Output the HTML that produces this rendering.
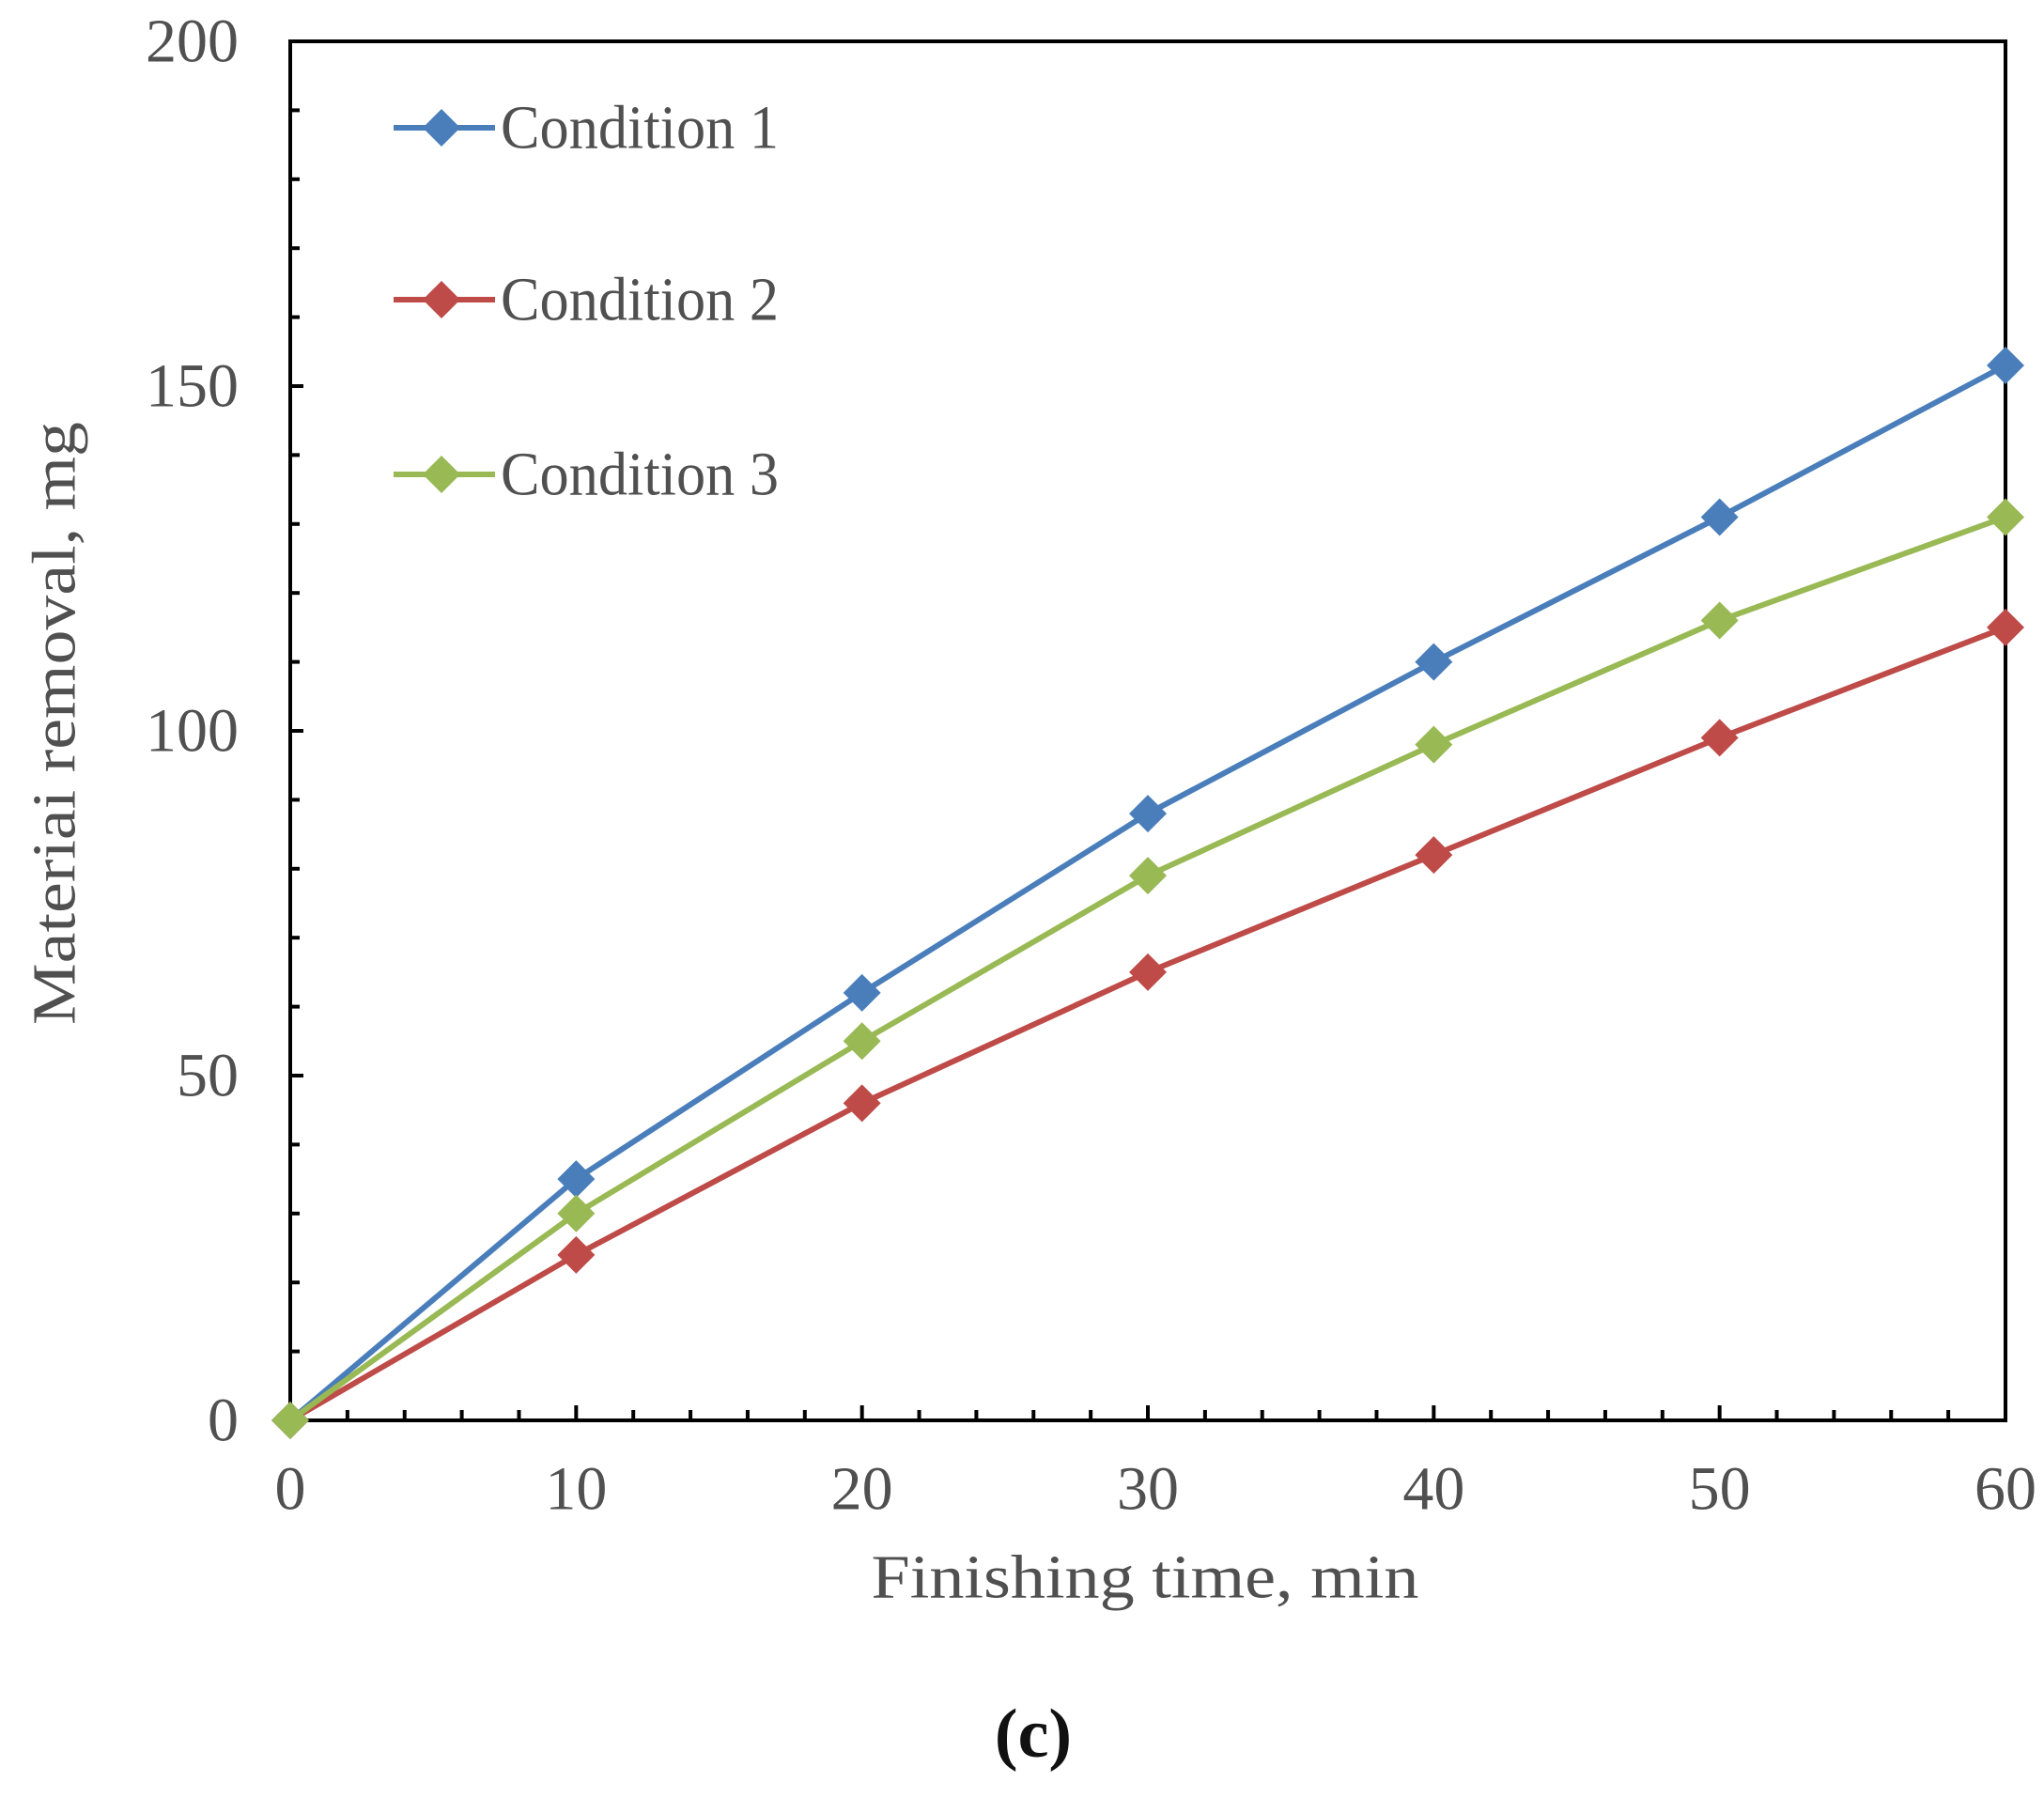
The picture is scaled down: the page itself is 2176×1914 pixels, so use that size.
<!DOCTYPE html>
<html><head><meta charset="utf-8"><style>
html,body{margin:0;padding:0;background:#fff;}
svg{display:block;}
text{font-family:"Liberation Serif",serif;fill:#505050;}
</style></head><body>
<svg id="chart" width="2176" height="1914" viewBox="0 0 2176 1914">
<g id="axes"></g>
<g id="series"></g>
<g id="legend"></g>
<text x="58" y="770" font-size="66" text-anchor="middle" dominant-baseline="central" transform="rotate(-90 58 770)" textLength="642" lengthAdjust="spacingAndGlyphs">Materiai removal, mg</text>
<text x="1219" y="1679" font-size="66" text-anchor="middle" dominant-baseline="central" textLength="583" lengthAdjust="spacingAndGlyphs">Finishing  time, min</text>
<text x="1100" y="1846" font-size="74" font-weight="bold" text-anchor="middle" dominant-baseline="central" style="fill:#111">(c)</text>
</svg>
<script>
const xCategories = [0, 10, 20, 30, 40, 50, 60];
const condition1 = [0, 35, 62, 88, 110, 131, 153];
const condition2 = [0, 24, 46, 65, 82, 99, 115];
const condition3 = [0, 30, 55, 79, 98, 116, 131];
const seriesNames = ["Condition 1", "Condition 2", "Condition 3"];
const yTickLabels = [0, 50, 100, 150, 200];
const xTickLabels = [0, 10, 20, 30, 40, 50, 60];

const NS = "http://www.w3.org/2000/svg";
const L = 309, R = 2135, T = 44, B = 1512;
const xMin = 0, xMax = 60, yMin = 0, yMax = 200;
function xs(v){ return L + (v - xMin) / (xMax - xMin) * (R - L); }
function ys(v){ return B - (v - yMin) / (yMax - yMin) * (B - T); }
function mk(tag, attrs, parent){
  const e = document.createElementNS(NS, tag);
  for (const k in attrs) e.setAttribute(k, attrs[k]);
  parent.appendChild(e);
  return e;
}
const axes = document.getElementById('axes');
const frame = mk('rect', {x:L, y:T, width:R-L, height:B-T, fill:'none', stroke:'#000', 'stroke-width':4}, axes);


for (let v = 0; v <= 200; v += 10) {
  const major = v % 50 === 0;
  const t = mk('line', {x1:L, x2:L + (major ? 14 : 10), y1:ys(v), y2:ys(v), stroke:'#000', 'stroke-width':4}, axes);
  
  
}
for (let v = 0; v <= 60; v += 2) {
  const major = v % 10 === 0;
  const t = mk('line', {x1:xs(v), x2:xs(v), y1:B, y2:B - (major ? 16 : 11), stroke:'#000', 'stroke-width':4}, axes);
  
  
}
yTickLabels.forEach(v => {
  const t = mk('text', {x:254, y:ys(v), 'font-size':66, 'text-anchor':'end', 'dominant-baseline':'central'}, axes);
  t.textContent = v;
  
  
});
xTickLabels.forEach(v => {
  const t = mk('text', {x:xs(v), y:1585, 'font-size':66, 'text-anchor':'middle', 'dominant-baseline':'central'}, axes);
  t.textContent = v;
  
  
});
const colors = ['#4a7ebb', '#be4b48', '#98b954'];
const allSeries = [condition1, condition2, condition3];
const sg = document.getElementById('series');
function diamond(cx, cy, r, color, parent){
  return mk('polygon', {points:`${cx},${cy-r} ${cx+r},${cy} ${cx},${cy+r} ${cx-r},${cy}`, fill:color}, parent);
}
allSeries.forEach((data, i) => {
  const g = mk('g', {}, sg);
  
  
  const pts = data.map((v, j) => xs(xCategories[j]) + ',' + ys(v)).join(' ');
  const pl = mk('polyline', {points:pts, fill:'none', stroke:colors[i], 'stroke-width':6, 'stroke-linejoin':'round'}, g);
  
  
  data.forEach((v, j) => {
    const d = diamond(xs(xCategories[j]), ys(v), 20, colors[i], g);
    
    
  });
});
const lg = document.getElementById('legend');
const legY = [136, 319, 505];
seriesNames.forEach((name, i) => {
  const g = mk('g', {}, lg);
  
  
  mk('line', {x1:419, x2:527, y1:legY[i], y2:legY[i], stroke:colors[i], 'stroke-width':6}, g);
  diamond(470, legY[i], 20, colors[i], g);
  const t = mk('text', {x:533, y:legY[i], 'font-size':66, 'dominant-baseline':'central', textLength:296, lengthAdjust:'spacingAndGlyphs'}, g);
  t.textContent = name;
});
</script>
</body></html>
